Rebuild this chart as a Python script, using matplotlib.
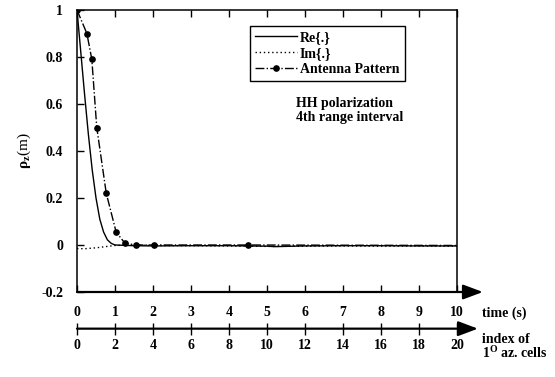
import matplotlib.pyplot as plt
from matplotlib.lines import Line2D

plt.rcParams['font.family'] = ['Liberation Serif', 'DejaVu Serif']
plt.rcParams['font.weight'] = 'bold'
plt.rcParams['font.size'] = 10
plt.rcParams['mathtext.fontset'] = 'custom'
plt.rcParams['mathtext.rm'] = 'Liberation Serif:bold'
plt.rcParams['mathtext.default'] = 'rm'

# Re{.} of the correlation vs time (s)
t_re = [0, 0.1, 0.2, 0.3, 0.4, 0.5, 0.6, 0.7, 0.8, 0.9, 1.0, 1.5, 2, 3, 4, 5, 5.2, 6, 7, 8, 9, 10]
re_vals = [1, 0.82, 0.64, 0.47, 0.32, 0.2, 0.11, 0.055, 0.022, 0.007, 0.0, -0.003, -0.004,
           -0.003, -0.003, -0.005, -0.007, -0.004, -0.003, -0.003, -0.004, -0.004]

# Im{.}
t_im = [0, 0.2, 0.5, 0.8, 1.0, 1.5, 2, 3, 4, 5, 6, 7, 8, 9, 10]
im_vals = [-0.015, -0.016, -0.012, -0.006, -0.002, 0.0, -0.002, -0.003, -0.004,
           -0.006, -0.005, -0.004, -0.005, -0.004, -0.005]

# antenna pattern
t_ant = [0, 0.26, 0.39, 0.52, 0.77, 1.03, 1.26, 1.55, 2.03, 4.5, 10]
ant_vals = [1, 0.9, 0.79, 0.5, 0.22, 0.055, 0.008, 0.0, 0.0, 0.0, -0.002]

time_ticks = [0, 1, 2, 3, 4, 5, 6, 7, 8, 9, 10]
idx_ticks = [0, 2, 4, 6, 8, 10, 12, 14, 16, 18, 20]
y_ticks = [-0.2, 0, 0.2, 0.4, 0.6, 0.8, 1]
y_labels = ['-0.2', '0', '0.2', '0.4', '0.6', '0.8', '1']

fig = plt.figure(figsize=(5.55, 3.77), dpi=100)
ax = fig.add_axes([77 / 555, 1 - 292 / 377, 380 / 555, 282 / 377])

ax.plot(t_re, re_vals, color='black', lw=1.0)
ax.plot(t_im, im_vals, color='black', lw=1.0, ls=(0, (1, 2)))
ax.plot(t_ant, ant_vals, color='black', lw=1.0, ls='-.', marker='o', ms=3.8,
        markevery=list(range(len(t_ant) - 1)))

ax.set_xlim(0, 10)
ax.set_ylim(-0.2, 1)
ax.set_xticks(time_ticks)
ax.set_yticks(y_ticks)
ax.set_yticklabels(y_labels)
ax.tick_params(axis='x', direction='in', top=True, length=5, width=1, pad=10)
ax.tick_params(axis='y', direction='in', length=5, width=1, pad=10)
for s in ['left', 'top', 'right']:
    ax.spines[s].set_linewidth(1.1)
ax.spines['bottom'].set_visible(False)
ax.set_ylabel(r'$\rho_z$(m)', fontsize=11, labelpad=6)

ax.annotate('', xy=(1.068, 0), xytext=(0, 0), xycoords='axes fraction',
            arrowprops=dict(arrowstyle='-|>,head_length=0.8,head_width=0.3',
                            mutation_scale=15, lw=1.6, color='black',
                            shrinkA=0, shrinkB=0), annotation_clip=False)

# second axis: index of 1 deg az. cells
sec = ax.secondary_xaxis(-0.13, functions=(lambda x: x * 2, lambda x: x / 2))
sec.set_xticks(idx_ticks)
sec.tick_params(direction='inout', length=9, width=1, pad=3)
sec.spines['bottom'].set_visible(False)
ax.annotate('', xy=(1.055, -0.13), xytext=(0, -0.13), xycoords='axes fraction',
            arrowprops=dict(arrowstyle='-|>,head_length=0.8,head_width=0.3',
                            mutation_scale=15, lw=1.6, color='black',
                            shrinkA=0, shrinkB=0), annotation_clip=False)

ax.text(1.065, -0.075, 'time (s)', transform=ax.transAxes, ha='left', va='center')
ax.text(1.065, -0.195, 'index of\n1$^{O}$ az. cells', transform=ax.transAxes,
        ha='left', va='center', linespacing=1.0)

handles = [Line2D([], [], color='black', lw=1.0),
           Line2D([], [], color='black', lw=1.0, ls=(0, (1, 2))),
           Line2D([], [], color='black', lw=1.0, ls='-.', marker='o', ms=3.8)]
leg = ax.legend(handles, ['Re{.}', 'Im{.}', 'Antenna Pattern'], loc='upper left',
                bbox_to_anchor=(0.455, 0.945), fancybox=False, edgecolor='black',
                framealpha=1, handlelength=3.0, handletextpad=0.2, borderpad=0.4,
                labelspacing=0.2, borderaxespad=0)
leg.get_frame().set_linewidth(1.0)

ax.text(0.576, 0.69, 'HH polarization\n4th range interval', transform=ax.transAxes,
        ha='left', va='top', linespacing=1.1)

fig.savefig('out.png', dpi=100)
